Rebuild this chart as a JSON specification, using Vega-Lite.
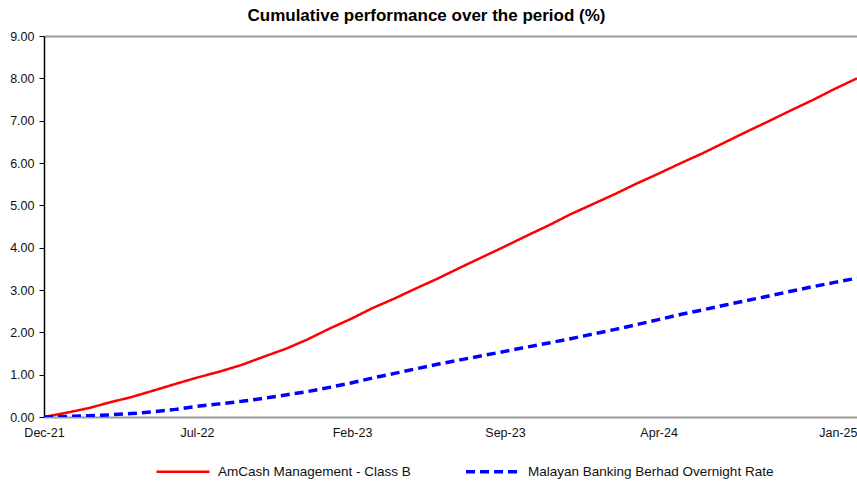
{
  "$schema": "https://vega.github.io/schema/vega-lite/v6.json",
  "autosize": "none",
  "width": 813,
  "height": 381,
  "padding": {"left": 44, "top": 36, "right": 0, "bottom": 65},
  "background": "white",
  "config": {
    "font": "Liberation Sans",
    "view": {"stroke": null}
  },
  "title": {
    "text": "Cumulative performance over the period (%)",
    "fontSize": 17,
    "fontWeight": "bold",
    "color": "#000000",
    "anchor": "middle",
    "dx": -24,
    "offset": 5
  },
  "data": {
    "values": [
      {"date": "2021-12-01", "series": "AmCash Management - Class B", "value": 0.00},
      {"date": "2022-01-01", "series": "AmCash Management - Class B", "value": 0.10},
      {"date": "2022-02-01", "series": "AmCash Management - Class B", "value": 0.21},
      {"date": "2022-03-01", "series": "AmCash Management - Class B", "value": 0.34},
      {"date": "2022-04-01", "series": "AmCash Management - Class B", "value": 0.47},
      {"date": "2022-05-01", "series": "AmCash Management - Class B", "value": 0.62},
      {"date": "2022-06-01", "series": "AmCash Management - Class B", "value": 0.78},
      {"date": "2022-07-01", "series": "AmCash Management - Class B", "value": 0.93},
      {"date": "2022-08-01", "series": "AmCash Management - Class B", "value": 1.07},
      {"date": "2022-09-01", "series": "AmCash Management - Class B", "value": 1.23},
      {"date": "2022-10-01", "series": "AmCash Management - Class B", "value": 1.42},
      {"date": "2022-11-01", "series": "AmCash Management - Class B", "value": 1.61},
      {"date": "2022-12-01", "series": "AmCash Management - Class B", "value": 1.83},
      {"date": "2023-01-01", "series": "AmCash Management - Class B", "value": 2.09},
      {"date": "2023-02-01", "series": "AmCash Management - Class B", "value": 2.33},
      {"date": "2023-03-01", "series": "AmCash Management - Class B", "value": 2.57},
      {"date": "2023-04-01", "series": "AmCash Management - Class B", "value": 2.80},
      {"date": "2023-05-01", "series": "AmCash Management - Class B", "value": 3.04},
      {"date": "2023-06-01", "series": "AmCash Management - Class B", "value": 3.28},
      {"date": "2023-07-01", "series": "AmCash Management - Class B", "value": 3.53},
      {"date": "2023-08-01", "series": "AmCash Management - Class B", "value": 3.78},
      {"date": "2023-09-01", "series": "AmCash Management - Class B", "value": 4.03},
      {"date": "2023-10-01", "series": "AmCash Management - Class B", "value": 4.28},
      {"date": "2023-11-01", "series": "AmCash Management - Class B", "value": 4.53},
      {"date": "2023-12-01", "series": "AmCash Management - Class B", "value": 4.79},
      {"date": "2024-01-01", "series": "AmCash Management - Class B", "value": 5.03},
      {"date": "2024-02-01", "series": "AmCash Management - Class B", "value": 5.27},
      {"date": "2024-03-01", "series": "AmCash Management - Class B", "value": 5.51},
      {"date": "2024-04-01", "series": "AmCash Management - Class B", "value": 5.75},
      {"date": "2024-05-01", "series": "AmCash Management - Class B", "value": 5.99},
      {"date": "2024-06-01", "series": "AmCash Management - Class B", "value": 6.23},
      {"date": "2024-07-01", "series": "AmCash Management - Class B", "value": 6.48},
      {"date": "2024-08-01", "series": "AmCash Management - Class B", "value": 6.74},
      {"date": "2024-09-01", "series": "AmCash Management - Class B", "value": 6.99},
      {"date": "2024-10-01", "series": "AmCash Management - Class B", "value": 7.24},
      {"date": "2024-11-01", "series": "AmCash Management - Class B", "value": 7.49},
      {"date": "2024-12-01", "series": "AmCash Management - Class B", "value": 7.75},
      {"date": "2025-01-01", "series": "AmCash Management - Class B", "value": 8.00},
      {"date": "2021-12-01", "series": "Malayan Banking Berhad Overnight Rate", "value": 0.00},
      {"date": "2022-01-01", "series": "Malayan Banking Berhad Overnight Rate", "value": 0.01},
      {"date": "2022-02-01", "series": "Malayan Banking Berhad Overnight Rate", "value": 0.03},
      {"date": "2022-03-01", "series": "Malayan Banking Berhad Overnight Rate", "value": 0.05},
      {"date": "2022-04-01", "series": "Malayan Banking Berhad Overnight Rate", "value": 0.08},
      {"date": "2022-05-01", "series": "Malayan Banking Berhad Overnight Rate", "value": 0.12},
      {"date": "2022-06-01", "series": "Malayan Banking Berhad Overnight Rate", "value": 0.18},
      {"date": "2022-07-01", "series": "Malayan Banking Berhad Overnight Rate", "value": 0.25},
      {"date": "2022-08-01", "series": "Malayan Banking Berhad Overnight Rate", "value": 0.31},
      {"date": "2022-09-01", "series": "Malayan Banking Berhad Overnight Rate", "value": 0.37},
      {"date": "2022-10-01", "series": "Malayan Banking Berhad Overnight Rate", "value": 0.44},
      {"date": "2022-11-01", "series": "Malayan Banking Berhad Overnight Rate", "value": 0.52},
      {"date": "2022-12-01", "series": "Malayan Banking Berhad Overnight Rate", "value": 0.60},
      {"date": "2023-01-01", "series": "Malayan Banking Berhad Overnight Rate", "value": 0.70},
      {"date": "2023-02-01", "series": "Malayan Banking Berhad Overnight Rate", "value": 0.81},
      {"date": "2023-03-01", "series": "Malayan Banking Berhad Overnight Rate", "value": 0.92},
      {"date": "2023-04-01", "series": "Malayan Banking Berhad Overnight Rate", "value": 1.03},
      {"date": "2023-05-01", "series": "Malayan Banking Berhad Overnight Rate", "value": 1.14},
      {"date": "2023-06-01", "series": "Malayan Banking Berhad Overnight Rate", "value": 1.25},
      {"date": "2023-07-01", "series": "Malayan Banking Berhad Overnight Rate", "value": 1.35},
      {"date": "2023-08-01", "series": "Malayan Banking Berhad Overnight Rate", "value": 1.45},
      {"date": "2023-09-01", "series": "Malayan Banking Berhad Overnight Rate", "value": 1.55},
      {"date": "2023-10-01", "series": "Malayan Banking Berhad Overnight Rate", "value": 1.65},
      {"date": "2023-11-01", "series": "Malayan Banking Berhad Overnight Rate", "value": 1.75},
      {"date": "2023-12-01", "series": "Malayan Banking Berhad Overnight Rate", "value": 1.85},
      {"date": "2024-01-01", "series": "Malayan Banking Berhad Overnight Rate", "value": 1.96},
      {"date": "2024-02-01", "series": "Malayan Banking Berhad Overnight Rate", "value": 2.07},
      {"date": "2024-03-01", "series": "Malayan Banking Berhad Overnight Rate", "value": 2.18},
      {"date": "2024-04-01", "series": "Malayan Banking Berhad Overnight Rate", "value": 2.30},
      {"date": "2024-05-01", "series": "Malayan Banking Berhad Overnight Rate", "value": 2.42},
      {"date": "2024-06-01", "series": "Malayan Banking Berhad Overnight Rate", "value": 2.53},
      {"date": "2024-07-01", "series": "Malayan Banking Berhad Overnight Rate", "value": 2.64},
      {"date": "2024-08-01", "series": "Malayan Banking Berhad Overnight Rate", "value": 2.75},
      {"date": "2024-09-01", "series": "Malayan Banking Berhad Overnight Rate", "value": 2.86},
      {"date": "2024-10-01", "series": "Malayan Banking Berhad Overnight Rate", "value": 2.97},
      {"date": "2024-11-01", "series": "Malayan Banking Berhad Overnight Rate", "value": 3.08},
      {"date": "2024-12-01", "series": "Malayan Banking Berhad Overnight Rate", "value": 3.18},
      {"date": "2025-01-01", "series": "Malayan Banking Berhad Overnight Rate", "value": 3.28}
    ]
  },
  "mark": {"type": "line", "strokeCap": "butt", "clip": true},
  "encoding": {
    "x": {
      "field": "date",
      "type": "temporal",
      "timeUnit": "utcyearmonth",
      "scale": {"type": "utc", "domain": [{"year": 2021, "month": 12, "date": 1, "utc": true}, {"year": 2025, "month": 1, "date": 1, "utc": true}]},
      "axis": {
        "title": null,
        "values": [
          {"year": 2021, "month": 12, "date": 1, "utc": true},
          {"year": 2022, "month": 7, "date": 1, "utc": true},
          {"year": 2023, "month": 2, "date": 1, "utc": true},
          {"year": 2023, "month": 9, "date": 1, "utc": true},
          {"year": 2024, "month": 4, "date": 1, "utc": true},
          {"year": 2025, "month": 1, "date": 1, "utc": true}
        ],
        "format": "%b-%y",
        "ticks": false,
        "grid": false,
        "domainColor": "#9a9a9a",
        "domainWidth": 2,
        "labelFontSize": 12.5,
        "labelColor": "#111111",
        "labelPadding": 9,
        "labelAlign": {"expr": "datum.value > utc(2024, 11, 15) ? 'right' : 'center'"}
      }
    },
    "y": {
      "field": "value",
      "type": "quantitative",
      "scale": {"domain": [0, 9], "nice": false},
      "axis": {
        "title": null,
        "values": [0, 1, 2, 3, 4, 5, 6, 7, 8, 9],
        "format": ".2f",
        "domainColor": "#000000",
        "domainWidth": 1.5,
        "tickColor": "#000000",
        "tickSize": 5,
        "tickWidth": 1,
        "labelFontSize": 12.5,
        "labelColor": "#111111",
        "labelPadding": 5,
        "grid": true,
        "gridColor": "#9a9a9a",
        "gridWidth": 2,
        "gridOpacity": {"condition": {"test": "datum.value == 9", "value": 1}, "value": 0}
      }
    },
    "color": {
      "field": "series",
      "type": "nominal",
      "scale": {"domain": ["AmCash Management - Class B", "Malayan Banking Berhad Overnight Rate"], "range": ["#ff0000", "#0000ff"]},
      "legend": {
        "title": null,
        "orient": "none",
        "direction": "horizontal",
        "legendX": 111,
        "legendY": 407,
        "symbolType": "stroke",
        "symbolSize": 2800,
        "symbolStrokeWidth": 3,
        "labelFontSize": 13.5,
        "labelColor": "#111111",
        "labelLimit": 400,
        "labelOffset": 7,
        "columnPadding": 48
      }
    },
    "strokeDash": {
      "field": "series",
      "type": "nominal",
      "scale": {"domain": ["AmCash Management - Class B", "Malayan Banking Berhad Overnight Rate"], "range": [[1, 0], [9, 5]]},
      "legend": null
    },
    "strokeWidth": {
      "field": "series",
      "type": "nominal",
      "scale": {"domain": ["AmCash Management - Class B", "Malayan Banking Berhad Overnight Rate"], "range": [2.5, 3.5]},
      "legend": null
    }
  }
}
